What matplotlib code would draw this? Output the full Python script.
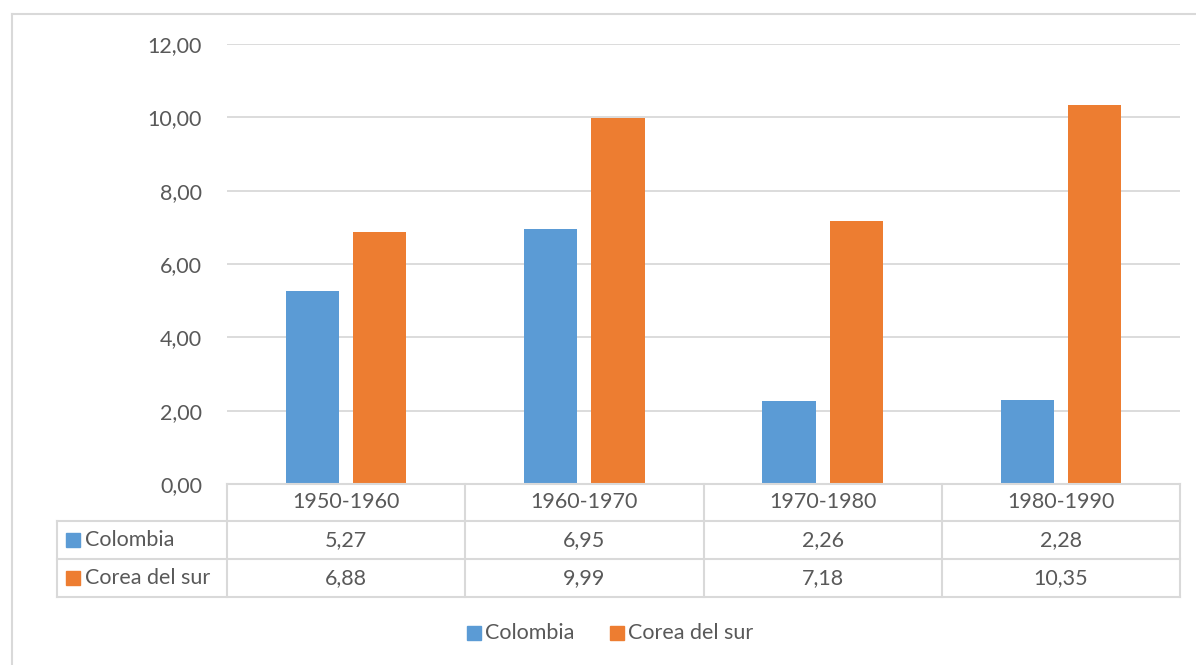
import matplotlib
matplotlib.use("Agg")
import matplotlib.pyplot as plt
from matplotlib.lines import Line2D
from matplotlib.patches import Rectangle
import numpy as np

categories = ["1950-1960", "1960-1970", "1970-1980", "1980-1990"]
series_names = ["Colombia", "Corea del sur"]
colombia = [5.27, 6.95, 2.26, 2.28]
corea = [6.88, 9.99, 7.18, 10.35]
yticks = [0, 2, 4, 6, 8, 10, 12]

colors = ["#5B9BD5", "#ED7D31"]
text_color = "#595959"
grid_color = "#D9D9D9"
FONT = "Lato"
FS = 15.5

W, H = 1196, 665
fig = plt.figure(figsize=(W / 100, H / 100), dpi=100)

def fx(px):
    return px / W

def fy(py):
    return 1 - py / H

# chart border (left and top visible)
fig.add_artist(Line2D([fx(12), fx(12)], [fy(14), fy(665)], color=grid_color, lw=1.5))
fig.add_artist(Line2D([fx(12), fx(1196)], [fy(14), fy(14)], color=grid_color, lw=1.5))

x0, x1 = 227, 1180
y_top, y_axis = 44, 484
ax = fig.add_axes([fx(x0), fy(y_axis), fx(x1) - fx(x0), fy(y_top) - fy(y_axis)])

x = np.arange(len(categories))
bw = 0.223
gap = 0.059
ax.bar(x - (bw + gap) / 2, colombia, bw, color=colors[0], zorder=3)
ax.bar(x + (bw + gap) / 2, corea, bw, color=colors[1], zorder=3)

ax.set_xlim(-0.5, len(categories) - 0.5)
ax.set_ylim(0, 12)
ax.set_yticks(yticks)
ax.set_yticklabels([f"{v:.2f}".replace(".", ",") for v in yticks],
                   fontsize=FS, color=text_color, fontfamily=FONT)
ax.tick_params(axis="y", length=0, pad=18)
ax.set_xticks([])
ax.yaxis.grid(True, color=grid_color, lw=1.3, zorder=0)
for s in ["top", "right", "left", "bottom"]:
    ax.spines[s].set_visible(False)

# data table
rows_y = [484, 521, 559, 597]
cols_x = [227 + i * (1180 - 227) / 4 for i in range(5)]
lw_t = 1.5
fig.add_artist(Line2D([fx(227), fx(1180)], [fy(484), fy(484)], color=grid_color, lw=lw_t))
for yy in rows_y[1:]:
    fig.add_artist(Line2D([fx(57), fx(1180)], [fy(yy), fy(yy)], color=grid_color, lw=lw_t))
for xx in cols_x:
    fig.add_artist(Line2D([fx(xx), fx(xx)], [fy(484), fy(597)], color=grid_color, lw=lw_t))
fig.add_artist(Line2D([fx(57), fx(57)], [fy(521), fy(597)], color=grid_color, lw=lw_t))

for i, c in enumerate(categories):
    cx = (cols_x[i] + cols_x[i + 1]) / 2
    fig.text(fx(cx), fy((rows_y[0] + rows_y[1]) / 2), c, ha="center", va="center",
             fontsize=FS, color=text_color, fontfamily=FONT)

for r, (name, vals) in enumerate(zip(series_names, [colombia, corea])):
    yc = (rows_y[r + 1] + rows_y[r + 2]) / 2
    fig.add_artist(Rectangle((fx(66), fy(yc + 7)), fx(14) - fx(0), fy(0) - fy(14),
                             color=colors[r], transform=fig.transFigure))
    fig.text(fx(85), fy(yc), name, ha="left", va="center",
             fontsize=FS, color=text_color, fontfamily=FONT)
    for i, v in enumerate(vals):
        cx = (cols_x[i] + cols_x[i + 1]) / 2
        fig.text(fx(cx), fy(yc), f"{v:.2f}".replace(".", ","), ha="center", va="center",
                 fontsize=FS, color=text_color, fontfamily=FONT)

# legend
leg_y = 633
leg_items = [(467, 485), (610, 628)]
for (mx, tx), name, col in zip(leg_items, series_names, colors):
    fig.add_artist(Rectangle((fx(mx), fy(leg_y + 7)), fx(14) - fx(0), fy(0) - fy(14),
                             color=col, transform=fig.transFigure))
    fig.text(fx(tx), fy(leg_y), name, ha="left", va="center",
             fontsize=FS, color=text_color, fontfamily=FONT)

fig.savefig("out.png", dpi=100)
